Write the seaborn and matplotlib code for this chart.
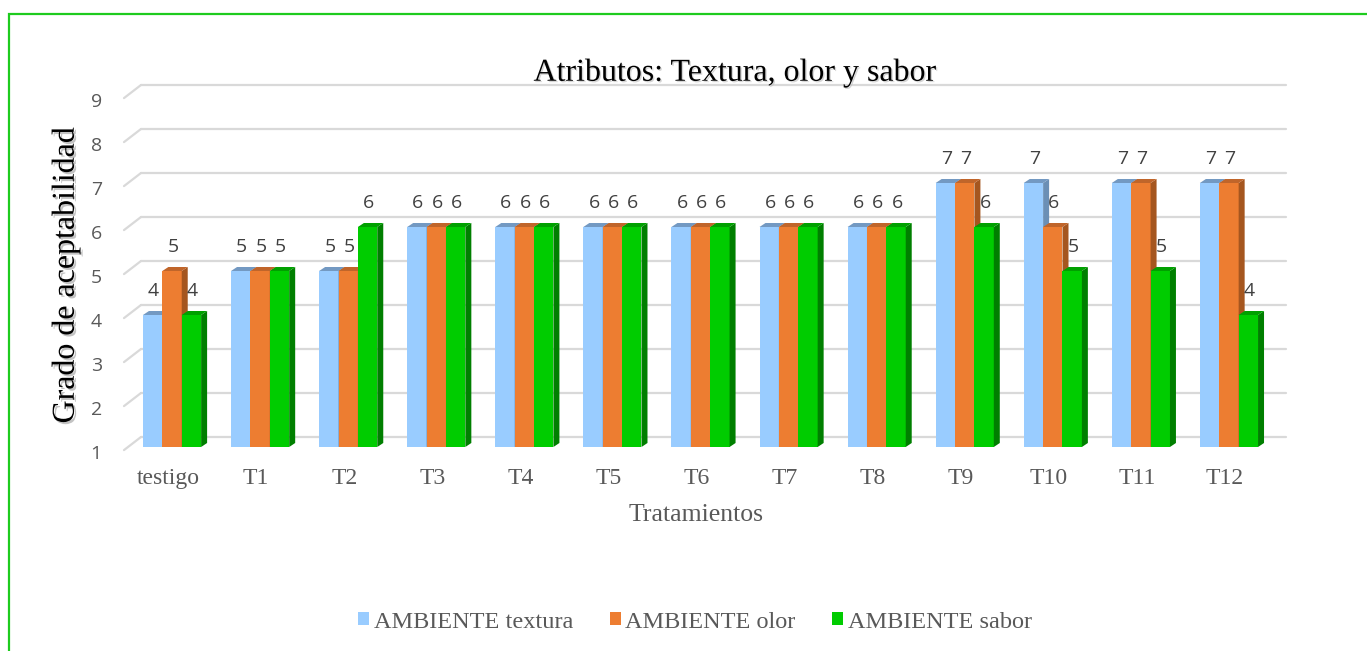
import numpy as np
import pandas as pd
import matplotlib
matplotlib.use("Agg")
import matplotlib.pyplot as plt
import matplotlib.transforms as mtransforms
import seaborn as sns
from matplotlib.patches import Polygon, Rectangle
import matplotlib.patheffects as pe

sns.set_style("white")
plt.rcParams['font.family'] = ['Liberation Serif', 'DejaVu Serif']

# =============================================================
# DATA
# =============================================================
tratamientos = ['testigo', 'T1', 'T2', 'T3', 'T4', 'T5', 'T6',
                'T7', 'T8', 'T9', 'T10', 'T11', 'T12']
textura = [4, 5, 5, 6, 6, 6, 6, 6, 6, 7, 7, 7, 7]
olor    = [5, 5, 5, 6, 6, 6, 6, 6, 6, 7, 6, 7, 7]
sabor   = [4, 5, 6, 6, 6, 6, 6, 6, 6, 6, 5, 5, 4]
series  = ['AMBIENTE textura', 'AMBIENTE olor', 'AMBIENTE sabor']
y_ticks = [1, 2, 3, 4, 5, 6, 7, 8, 9]

front = ['#99CCFF', '#ED7D31', '#00CC00']
side  = ['#6B8FB5', '#A5561F', '#007F00']
top   = ['#7399C2', '#C0652A', '#00A000']

df = pd.DataFrame({
    'trat': tratamientos * 3,
    'valor': textura + olor + sabor,
    'serie': np.repeat(series, len(tratamientos)),
})

# =============================================================
# FIGURE
# =============================================================
W, H = 1367, 651
fig = plt.figure(figsize=(W / 100, H / 100), dpi=100)
ax_l, ax_b, ax_w, ax_h = 124, 204, 1145, 352
ax = fig.add_axes([ax_l / W, ax_b / H, ax_w / W, ax_h / H])

sns.barplot(data=df, x='trat', y='valor', hue='serie', palette=front,
            width=0.66, gap=0, saturation=1, ax=ax, legend=False,
            linewidth=0, zorder=2)

ax.set_xlim(-0.5, len(tratamientos) - 0.5)
ax.set_ylim(1, 9)
sns.despine(ax=ax, left=True, bottom=True)

# pixel -> data conversions
sx = ax_w / len(tratamientos)
sy = ax_h / 8.0
gdx, gdy = 17 / sx, 10 / sy      # back wall depth
bdx, bdy = 6 / sx, 4 / sy        # bar depth
shift = 4 / sx                   # bars sit a bit right of the category centre

# back-wall gridlines + left diagonals
for v in y_ticks:
    ax.plot([-0.5 + gdx, len(tratamientos) - 0.5 + gdx], [v + gdy, v + gdy],
            color='#D9D9D9', lw=1.6, zorder=0.5, clip_on=False)
    ax.plot([-0.5, -0.5 + gdx], [v - 0.07, v + gdy],
            color='#D9D9D9', lw=1.6, zorder=0.5, clip_on=False)

# 3D faces for each bar + value labels
for k, cont in enumerate(ax.containers):
    for bar in cont:
        bar.set_x(bar.get_x() + shift)
        x0, w, h = bar.get_x(), bar.get_width(), bar.get_height()
        z = 2 + x0 * 0.01
        bar.set_zorder(z)
        ax.add_patch(Polygon([(x0 + w, 1), (x0 + w + bdx, 1 + bdy),
                              (x0 + w + bdx, h + bdy), (x0 + w, h)],
                             closed=True, facecolor=side[k], lw=0,
                             zorder=z, clip_on=False))
        ax.add_patch(Polygon([(x0, h), (x0 + bdx, h + bdy),
                              (x0 + w + bdx, h + bdy), (x0 + w, h)],
                             closed=True, facecolor=top[k], lw=0,
                             zorder=z, clip_on=False))
        ax.annotate(f"{h:.0f}", (x0 + w / 2, h), xytext=(1, 24),
                    textcoords='offset pixels', ha='center', va='center',
                    fontsize=14, color='#404040', family='Open Sans',
                    zorder=10)

ax.set_yticks(y_ticks)
ax.set_yticklabels([str(v) for v in y_ticks], family='Open Sans',
                   fontsize=14, color='#595959')
ax.tick_params(axis='y', length=0, pad=16)
down = mtransforms.ScaledTranslation(0, -5 / 100, fig.dpi_scale_trans)
for lab in ax.get_yticklabels():
    lab.set_transform(lab.get_transform() + down)
ax.tick_params(axis='x', length=0, pad=15, labelsize=17, labelcolor='#595959')
ax.set_xlabel('Tratamientos', fontsize=18.5, color='#595959', labelpad=11)
ax.set_ylabel('')

# titles
fig.text(735 / W, 1 - 73 / H, 'Atributos: Textura, olor y sabor',
         fontsize=23, ha='center', va='center', color='black',
         path_effects=[pe.withSimplePatchShadow(offset=(1, -1),
                                                shadow_rgbFace='#BBBBBB',
                                                alpha=0.6)])
fig.text(66 / W, 1 - 275 / H, 'Grado de aceptabilidad', rotation=90,
         fontsize=23, ha='center', va='center', color='black',
         path_effects=[pe.withSimplePatchShadow(offset=(1.5, -1.5),
                                                shadow_rgbFace='#AAAAAA',
                                                alpha=0.7)])

# legend
handles = [Rectangle((0, 0), 1, 1, facecolor=c, lw=0) for c in front]
fig.legend(handles, series, loc='center', bbox_to_anchor=(695 / W, 1 - 622 / H),
           ncol=3, frameon=False, fontsize=17.5, labelcolor='#595959',
           handlelength=0.45, handleheight=0.45, handletextpad=0.2,
           columnspacing=1.5)

# green frame
fig.patches.append(Rectangle((9 / W, -0.1), 2, 1 - 14 / H + 0.1,
                             transform=fig.transFigure, fill=False,
                             edgecolor='#1ECB1E', lw=1.6))

fig.savefig("out.png", dpi=100)
